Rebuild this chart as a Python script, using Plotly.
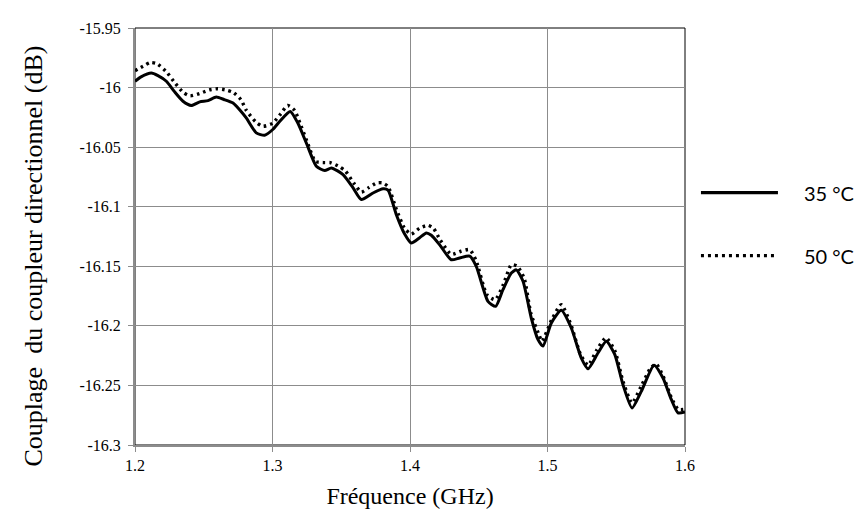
import plotly.graph_objects as go

# ---- data ----
freq_35 = [1.2000, 1.2044, 1.2119, 1.2167, 1.2228, 1.2284, 1.2349, 1.2409, 1.2471, 1.2531,
           1.2591, 1.2647, 1.2713, 1.2764, 1.2809, 1.2882, 1.2943, 1.3004, 1.3055, 1.3129,
           1.3185, 1.3246, 1.3319, 1.3380, 1.3428, 1.3513, 1.3585, 1.3646, 1.3731, 1.3804,
           1.3840, 1.3900, 1.3961, 1.4009, 1.4070, 1.4119, 1.4155, 1.4216, 1.4300, 1.4361,
           1.4434, 1.4482, 1.4567, 1.4623, 1.4676, 1.4737, 1.4773, 1.4822, 1.4882, 1.4931,
           1.4967, 1.5028, 1.5100, 1.5173, 1.5246, 1.5295, 1.5367, 1.5428, 1.5489, 1.5549,
           1.5615, 1.5682, 1.5775, 1.5840, 1.5901, 1.5949, 1.6000]
coupl_35 = [-15.9947, -15.9910, -15.9878, -15.9900, -15.9947, -16.0030, -16.0115, -16.0150, -16.0120, -16.0110,
            -16.0080, -16.0100, -16.0130, -16.0190, -16.0255, -16.0380, -16.0400, -16.0350, -16.0280, -16.0200,
            -16.0300, -16.0465, -16.0660, -16.0697, -16.0675, -16.0730, -16.0840, -16.0940, -16.0885, -16.0850,
            -16.0860, -16.1065, -16.1230, -16.1305, -16.1260, -16.1220, -16.1240, -16.1320, -16.1445, -16.1430,
            -16.1415, -16.1500, -16.1794, -16.1836, -16.1696, -16.1557, -16.1530, -16.1626, -16.1934, -16.2116,
            -16.2170, -16.1976, -16.1870, -16.2018, -16.2270, -16.2360, -16.2228, -16.2130, -16.2240, -16.2494,
            -16.2690, -16.2550, -16.2330, -16.2438, -16.2620, -16.2730, -16.2723]

freq_50 = [1.2000, 1.2060, 1.2110, 1.2160, 1.2230, 1.2290, 1.2350, 1.2400, 1.2470, 1.2540,
           1.2600, 1.2660, 1.2713, 1.2770, 1.2809, 1.2880, 1.2930, 1.3000, 1.3060, 1.3110,
           1.3160, 1.3200, 1.3250, 1.3313, 1.3380, 1.3420, 1.3480, 1.3530, 1.3590, 1.3646,
           1.3700, 1.3760, 1.3800, 1.3840, 1.3900, 1.3960, 1.4009, 1.4070, 1.4130, 1.4170,
           1.4220, 1.4300, 1.4370, 1.4434, 1.4480, 1.4560, 1.4620, 1.4680, 1.4737, 1.4780,
           1.4830, 1.4880, 1.4940, 1.4960, 1.5030, 1.5100, 1.5170, 1.5240, 1.5295, 1.5360,
           1.5425, 1.5490, 1.5550, 1.5615, 1.5680, 1.5750, 1.5790, 1.5840, 1.5900, 1.5950,
           1.6000]
coupl_50 = [-15.9858, -15.9820, -15.9790, -15.9800, -15.9870, -15.9960, -16.0040, -16.0070, -16.0050, -16.0020,
            -16.0010, -16.0020, -16.0040, -16.0100, -16.0190, -16.0290, -16.0325, -16.0300, -16.0220, -16.0150,
            -16.0190, -16.0300, -16.0450, -16.0620, -16.0630, -16.0630, -16.0660, -16.0700, -16.0800, -16.0877,
            -16.0840, -16.0800, -16.0800, -16.0830, -16.1020, -16.1180, -16.1230, -16.1180, -16.1156, -16.1180,
            -16.1280, -16.1400, -16.1374, -16.1360, -16.1450, -16.1740, -16.1780, -16.1650, -16.1487, -16.1500,
            -16.1600, -16.1900, -16.2080, -16.2130, -16.1950, -16.1822, -16.1990, -16.2240, -16.2330, -16.2200,
            -16.2100, -16.2210, -16.2470, -16.2647, -16.2510, -16.2354, -16.2320, -16.2420, -16.2600, -16.2700,
            -16.2700]

series_names = ["35 °C", "50 °C"]
x_ticks = [1.2, 1.3, 1.4, 1.5, 1.6]
x_tick_text = ["1.2", "1.3", "1.4", "1.5", "1.6"]
y_ticks = [-15.95, -16.0, -16.05, -16.1, -16.15, -16.2, -16.25, -16.3]
y_tick_text = ["-15.95", "-16", "-16.05", "-16.1", "-16.15", "-16.2", "-16.25", "-16.3"]
x_title = "Fréquence (GHz)"
y_title = "Couplage  du coupleur directionnel (dB)"

serif = "Liberation Serif, Times New Roman, serif"
sans = "Lato, Open Sans, sans-serif"

fig = go.Figure()
fig.add_trace(go.Scatter(x=freq_35, y=coupl_35, mode="lines", name=series_names[0],
                         line=dict(color="black", width=3, shape="spline", smoothing=0.6),
                         showlegend=False))
fig.add_trace(go.Scatter(x=freq_50, y=coupl_50, mode="lines", name=series_names[1],
                         line=dict(color="black", width=3.4, dash="2.5px,4px", shape="spline", smoothing=0.6),
                         showlegend=False))

# manual legend (paper coords)
leg_y = [0.605, 0.454]
leg_dash = ["solid", "3px,4px"]
leg_w = [3.2, 3.2]
for yy, nm, dsh, w in zip(leg_y, series_names, leg_dash, leg_w):
    fig.add_shape(type="line", xref="paper", yref="paper", x0=1.029, x1=1.169, y0=yy, y1=yy,
                  line=dict(color="black", width=w, dash=dsh))
    fig.add_annotation(xref="paper", yref="paper", x=1.213, y=yy, text=nm, showarrow=False,
                       xanchor="left", yanchor="middle", font=dict(family=sans, size=20, color="black"))

# y-axis title (placed like the reference, slightly below plot centre)
fig.add_annotation(xref="paper", yref="paper", x=0, y=0.452, xshift=-101, text=y_title,
                   textangle=-90, showarrow=False, xanchor="center", yanchor="middle",
                   font=dict(family=serif, size=26, color="black"))

# plot-area border (top/right black)
fig.add_shape(type="rect", xref="paper", yref="paper", x0=0, x1=1, y0=0, y1=1,
              line=dict(color="black", width=1), layer="below")

fig.update_layout(
    width=866, height=516,
    margin=dict(l=127, r=189, t=20, b=79),
    paper_bgcolor="white", plot_bgcolor="white",
    xaxis=dict(range=[1.2, 1.6], tickvals=x_ticks, ticktext=x_tick_text,
               showgrid=True, gridcolor="#8c8c8c", gridwidth=1,
               showline=True, linecolor="#8c8c8c", linewidth=2,
               ticks="outside", ticklen=5, tickcolor="#8c8c8c",
               zeroline=False,
               tickfont=dict(family=serif, size=16, color="black"),
               title=dict(text=x_title, font=dict(family=serif, size=24, color="black"),
                          standoff=14)),
    yaxis=dict(range=[-16.3, -15.95], tickvals=y_ticks, ticktext=y_tick_text,
               showgrid=True, gridcolor="#8c8c8c", gridwidth=1,
               showline=True, linecolor="#8c8c8c", linewidth=2,
               ticks="outside", ticklen=5, tickcolor="#8c8c8c",
               zeroline=False, ticklabelstandoff=4,
               tickfont=dict(family=serif, size=16, color="black")),
)

fig.write_html("out.html")
